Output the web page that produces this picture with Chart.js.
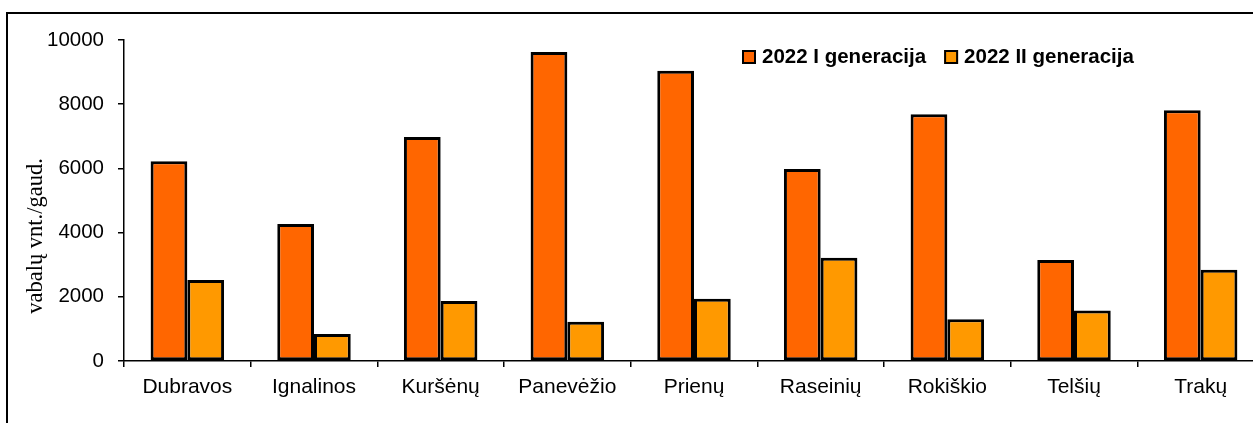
<!DOCTYPE html>
<html>
<head>
<meta charset="utf-8">
<script src="https://cdn.jsdelivr.net/npm/chart.js@4.4.1/dist/chart.umd.min.js"></script>
<style>
  html, body { margin: 0; padding: 0; background: #fff; overflow: hidden; }
  #wrap { position: relative; width: 1290px; height: 423px; }
</style>
</head>
<body>
<div id="wrap"><canvas id="beetles" width="1290" height="423"></canvas></div>
<script>
const regions = ['Dubravos', 'Ignalinos', 'Kuršėnų', 'Panevėžio', 'Prienų', 'Raseinių', 'Rokiškio', 'Telšių', 'Trakų'];
const gen1 = [6220, 4270, 6980, 9630, 9045, 5980, 7685, 3145, 7810];
const gen2 = [2520, 840, 1870, 1225, 1940, 3220, 1300, 1570, 2845];
const seriesNames = ['2022 I generacija', '2022 II generacija'];
const yTicks = [0, 2000, 4000, 6000, 8000, 10000];
const yTitle = 'vabalų vnt./gaud.';

const sans = '"Liberation Sans", Arial, sans-serif';
const serif = '"Liberation Serif", "Times New Roman", serif';

// outer frame + rotated y title + legend inside the plot
const decor = {
  id: 'decor',
  afterDraw(chart) {
    const ctx = chart.ctx;
    ctx.save();
    ctx.strokeStyle = '#000';
    ctx.lineWidth = 2;
    ctx.beginPath();
    ctx.moveTo(7, 430);
    ctx.lineTo(7, 13);
    ctx.lineTo(chart.width + 10, 13);
    ctx.stroke();

    ctx.translate(36, 236);
    ctx.rotate(-Math.PI / 2);
    ctx.fillStyle = '#000';
    ctx.font = '22.5px ' + serif;
    ctx.textAlign = 'center';
    ctx.textBaseline = 'middle';
    ctx.fillText(yTitle, 0, 0);
    ctx.restore();

    ctx.save();
    ctx.font = 'bold 20.5px ' + sans;
    ctx.textBaseline = 'middle';
    let x = 742;
    const y = 57;
    chart.data.datasets.forEach(ds => {
      ctx.fillStyle = ds.backgroundColor;
      ctx.fillRect(x, y - 7, 14, 14);
      ctx.strokeStyle = '#000';
      ctx.lineWidth = 2;
      ctx.strokeRect(x + 1, y - 6, 12, 12);
      ctx.fillStyle = '#000';
      ctx.fillText(ds.label, x + 20, y);
      x += 20 + ctx.measureText(ds.label).width + 18;
    });
    ctx.restore();
  }
};

new Chart(document.getElementById('beetles'), {
  type: 'bar',
  data: {
    labels: regions,
    datasets: [
      { label: seriesNames[0], data: gen1, backgroundColor: '#FF6600' },
      { label: seriesNames[1], data: gen2, backgroundColor: '#FF9900' }
    ]
  },
  options: {
    responsive: false,
    animation: false,
    devicePixelRatio: 1,
    datasets: {
      bar: {
        borderColor: '#000',
        borderWidth: 3,
        borderSkipped: false,
        categoryPercentage: 0.58,
        barPercentage: 1
      }
    },
    layout: { padding: { top: 40, right: 26, left: 0, bottom: 0 } },
    plugins: {
      legend: { display: false },
      tooltip: { enabled: false }
    },
    scales: {
      x: {
        grid: { display: true, drawOnChartArea: false, drawTicks: true, tickLength: 6, color: '#000', lineWidth: 1.5, offset: true },
        border: { display: true, color: '#000', width: 1.5 },
        ticks: { color: '#000', font: { family: sans, size: 21 }, padding: 8, maxRotation: 0, autoSkip: false },
        afterFit(scale) { scale.height = 62; }
      },
      y: {
        min: 0,
        max: 10000,
        grid: { display: true, drawOnChartArea: false, drawTicks: true, tickLength: 6, color: '#000', lineWidth: 1.5 },
        border: { display: true, color: '#000', width: 1.5 },
        ticks: {
          color: '#000',
          font: { family: sans, size: 20.5 },
          padding: 14,
          stepSize: 2000,
          callback: v => yTicks.includes(v) ? String(v) : ''
        },
        afterFit(scale) { scale.width = 124; }
      }
    }
  },
  plugins: [decor]
});
</script>
</body>
</html>
